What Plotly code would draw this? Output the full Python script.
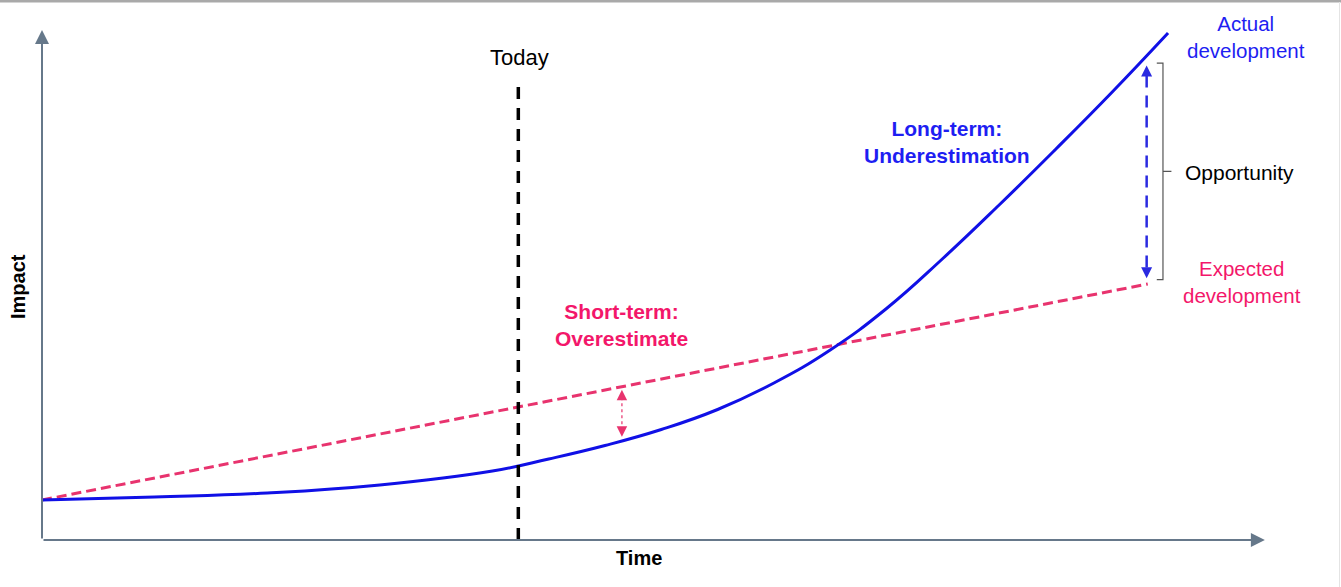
import numpy as np
import plotly.graph_objects as go

# ---------------- data ----------------
time = [0, 1, 2, 3, 4, 4.5, 5, 5.5, 6, 6.5, 7, 7.5, 8, 8.5, 9, 9.5, 10]
actual = [0.80, 0.86, 0.94, 1.10, 1.38, 1.62, 1.89, 2.21, 2.61, 3.14, 3.80,
          4.63, 5.63, 6.70, 7.81, 8.95, 10.14]
expected_time = [0, 9.82]
expected = [0.80, 5.12]
today_time = 4.23
today_top = 9.2
short_term_time = 5.15
opportunity_time = 9.81
axis_x_end = 10.86
axis_y_end = 10.2

# ---------------- styling ----------------
W, H = 1341, 587
FONT = "Liberation Sans, Arial, sans-serif"
BLUE_LINE = "#1010E6"
BLUE_TEXT = "#1E1EF2"
PINK_LINE = "#E8336E"
PINK_TEXT = "#F3176A"
AXIS = "#66788A"

X_RANGE = [-0.373, 11.536]
Y_RANGE = [-0.94, 10.8]


def px(x):
    return x / W


def py(y):
    return 1 - y / H


fig = go.Figure()

# Expected development (dashed red)
fig.add_trace(go.Scatter(x=expected_time, y=expected, mode="lines",
                         line=dict(color=PINK_LINE, width=3, dash="10px,5px"),
                         hoverinfo="skip", showlegend=False))

# Actual development (blue curve)
fig.add_trace(go.Scatter(x=time, y=actual, mode="lines",
                         line=dict(color=BLUE_LINE, width=3, shape="spline", smoothing=1.3),
                         hoverinfo="skip", showlegend=False))

# Today line
fig.add_trace(go.Scatter(x=[today_time, today_time], y=[0, today_top], mode="lines",
                         line=dict(color="black", width=3.5, dash="12px,9px"),
                         hoverinfo="skip", showlegend=False))

# short-term gap (dotted double arrow)
exp_s = float(np.interp(short_term_time, expected_time, expected))
act_s = float(np.interp(short_term_time, time, actual))
s_top, s_bot = exp_s - 0.06, act_s + 0.08
fig.add_trace(go.Scatter(x=[short_term_time, short_term_time], y=[s_top - 0.15, s_bot + 0.15],
                         mode="lines", line=dict(color="#EC5A8A", width=1.5, dash="dot"),
                         hoverinfo="skip", showlegend=False))

# opportunity gap (dashed blue double arrow)
exp_o = float(np.interp(opportunity_time, expected_time, expected))
act_o = float(np.interp(opportunity_time, time, actual))
o_top, o_bot = act_o - 0.2, exp_o + 0.12
fig.add_trace(go.Scatter(x=[opportunity_time, opportunity_time], y=[o_top - 0.2, o_bot + 0.2],
                         mode="lines", line=dict(color="#2A2AE0", width=2.5, dash="12px,8px"),
                         hoverinfo="skip", showlegend=False))

# bracket
bx = opportunity_time + 0.145
bh = 0.055
b_top, b_bot = o_top + 0.05, o_bot - 0.03
b_mid = (b_top + b_bot) / 2
fig.add_trace(go.Scatter(
    x=[bx - bh, bx, bx, bx + 0.075, bx, bx, bx - bh],
    y=[b_top, b_top, b_mid, b_mid, b_mid, b_bot, b_bot],
    mode="lines", line=dict(color="#555555", width=1.2),
    hoverinfo="skip", showlegend=False))

annotations = []


def arrow(x, y, ax, ay, color, width, size, head=2):
    annotations.append(dict(x=x, y=y, ax=ax, ay=ay, xref="x", yref="y",
                            axref="x", ayref="y", text="", showarrow=True,
                            arrowhead=head, arrowsize=size, arrowwidth=width,
                            arrowcolor=color))


# axes with arrows
arrow(axis_x_end, 0, 0, 0, AXIS, 2, 1.4)
arrow(0, axis_y_end, 0, 0, AXIS, 2, 1.4)

# arrowheads for gap arrows
arrow(short_term_time, s_top, short_term_time, s_top - 0.2, "#E8336E", 1.5, 1.4)
arrow(short_term_time, s_bot, short_term_time, s_bot + 0.2, "#E8336E", 1.5, 1.4)
arrow(opportunity_time, o_top, opportunity_time, o_top - 0.2, "#2A2AE0", 2, 1.1)
arrow(opportunity_time, o_bot, opportunity_time, o_bot + 0.2, "#2A2AE0", 2, 1.1)


def label(text, x, y, color, size, angle=0):
    annotations.append(dict(text=text, x=px(x), y=py(y), xref="paper", yref="paper",
                            xanchor="center", yanchor="middle", showarrow=False,
                            textangle=angle, align="center",
                            font=dict(family=FONT, size=size, color=color)))


label("Today", 519, 58, "black", 22)
label("Actual<br>development", 1246, 37, BLUE_TEXT, 20.5)
label("Opportunity", 1239, 172, "black", 21)
label("Expected<br>development", 1242, 282, PINK_TEXT, 20.5)
label("<b>Long-term:<br>Underestimation</b>", 947, 142, BLUE_TEXT, 21)
label("<b>Short-term:<br>Overestimate</b>", 621, 325, PINK_TEXT, 21)
label("<b>Impact</b>", 18, 287, "black", 20, angle=-90)
label("<b>Time</b>", 639, 558, "black", 20)

shapes = [
    dict(type="line", xref="paper", yref="paper", x0=0, x1=1, y0=py(1), y1=py(1),
         line=dict(color="#A9A9A9", width=3)),
    dict(type="line", xref="paper", yref="paper", x0=px(1339.5), x1=px(1339.5), y0=0, y1=py(2),
         line=dict(color="#E4E4E4", width=1)),
]

fig.update_layout(
    width=W, height=H,
    margin=dict(l=0, r=0, t=0, b=0),
    paper_bgcolor="white", plot_bgcolor="white",
    xaxis=dict(range=X_RANGE, visible=False, fixedrange=True),
    yaxis=dict(range=Y_RANGE, visible=False, fixedrange=True),
    annotations=annotations, shapes=shapes,
    showlegend=False,
)

fig.write_html("out.html",
               config={"displayModeBar": False},
               post_script="document.body.style.margin='0';document.body.style.padding='0';")
